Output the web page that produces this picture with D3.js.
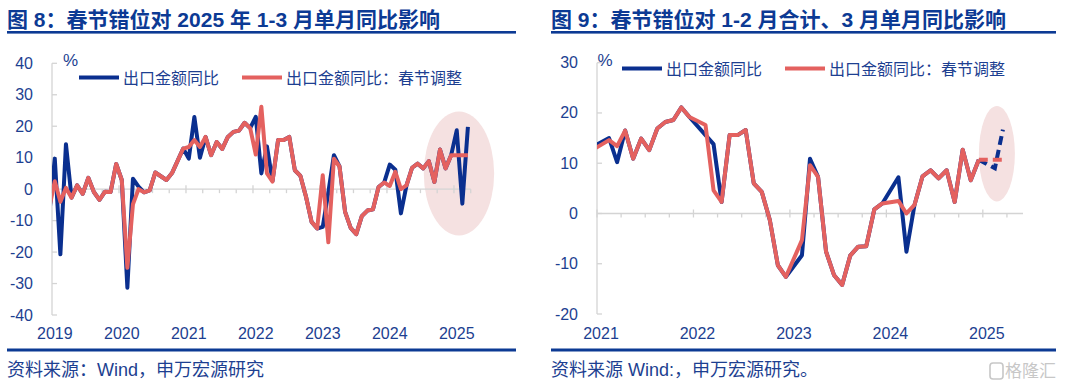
<!DOCTYPE html>
<html>
<head>
<meta charset="utf-8">
<script src="https://cdn.jsdelivr.net/npm/d3@7"></script>
<style>
  body { margin: 0; background: #fff; }
  svg { display: block; }
  text { font-family: "Liberation Sans", "Noto Sans CJK SC", sans-serif; }
</style>
</head>
<body>
<svg id="chart" width="1080" height="384"></svg>
<script>
// ---- data (% y/y) ----
// left: monthly from 2018-12 (first point sits left of the axis and is clipped)
const LEFT_FIRST_MONTH = '2018-12'
const LEFT_EXPORT = [
  -8.0,
  9.7, -20.7, 14.3, -2.7, 1.2, -1.5, 3.6, -0.9, -3.4, -0.8, -0.9, 8.0,      // 2019
  2.9, -31.3, 3.3, 0.8, -1.0, -0.4, 5.3, 4.1, 2.9, 5.1, 9.0, 12.9,          // 2020
  9.7, 22.9, 10.0, 16.6, 10.8, 15.0, 12.8, 16.6, 18.2, 18.6, 21.1, 19.4,    // 2021
  23.0, 5.0, 13.6, 2.6, 15.6, 15.6, 16.6, 6.0, 4.2, -2.4, -10.4, -12.5,     // 2022
  -12.0, -1.0, 10.8, 7.2, -7.2, -12.3, -14.3, -8.6, -6.8, -6.4, 0.7, 2.1,   // 2023
  7.8, 6.2, -7.7, 1.2, 6.8, 8.1, 6.6, 8.9, 2.3, 12.6, 6.6, 10.8,            // 2024
  18.7, -4.6, 19.8                                                          // 2025
]
const LEFT_ADJUSTED = [
  -6.0,
  2.5, -4.0, 0.4, -2.7, 1.2, -1.5, 3.6, -0.9, -3.4, -0.8, -0.9, 8.0,
  2.9, -25.0, -4.8, 0.0, -1.0, -0.4, 5.3, 4.1, 2.9, 5.1, 9.0, 12.9,
  13.4, 15.6, 13.4, 16.6, 10.8, 15.0, 12.8, 16.6, 18.2, 18.6, 21.1, 19.4,
  11.0, 26.2, 5.0, 2.4, 15.6, 15.6, 16.6, 6.0, 4.2, -2.4, -10.4, -12.5,
  4.4, -16.9, 9.7, 7.2, -7.2, -12.3, -14.3, -8.6, -6.8, -6.4, 0.7, 2.1,
  1.0, 5.5, 0.0, 1.2, 6.8, 8.1, 6.6, 8.9, 2.3, 12.6, 6.6, 10.8,
  10.8, 10.8, 10.8
]
const LEFT_YEARS = ['2019', '2020', '2021', '2022', '2023', '2024', '2025']
const LEFT_Y_TICKS = [40, 30, 20, 10, 0, -10, -20, -30, -40]

// right: Jan-Feb combined (plotted at Feb), Jan left empty
const RIGHT_FIRST_MONTH = '2020-12'
const RIGHT_EXPORT = [
  13.3,
  null, 15.0, 10.2, 16.5, 10.9, 14.9, 12.6, 16.9, 18.2, 18.6, 21.1, 19.2,   // 2021
  null, 15.6, 13.8, 2.3, 15.6, 15.6, 16.6, 6.0, 4.3, -1.3, -10.3, -12.6,    // 2022
  null, -8.3, 10.9, 7.3, -7.6, -12.3, -14.2, -8.4, -6.6, -6.5, 0.8, 2.0,    // 2023
  null, 7.2, -7.6, 1.7, 7.4, 8.6, 7.0, 8.6, 2.3, 12.7, 6.6, 10.7,           // 2024
  null, 9.0, 16.7                                                           // 2025
]
const RIGHT_ADJUSTED = [
  12.7,
  null, 14.6, 13.4, 16.5, 10.9, 14.9, 12.6, 16.9, 18.2, 18.6, 21.1, 19.2,
  null, 17.6, 4.6, 2.3, 15.6, 15.6, 16.6, 6.0, 4.3, -1.3, -10.3, -12.6,
  null, -5.3, 9.6, 7.3, -7.6, -12.3, -14.2, -8.4, -6.6, -6.5, 0.8, 2.0,
  null, 2.5, 0.0, 1.7, 7.4, 8.6, 7.0, 8.6, 2.3, 12.7, 6.6, 10.7,
  null, 10.7, 10.7
]
const RIGHT_DASH_FROM = '2024-12'
const RIGHT_YEARS = ['2021', '2022', '2023', '2024', '2025']
const RIGHT_Y_TICKS = [30, 20, 10, 0, -10, -20]

const SERIES_NAMES = ['出口金额同比', '出口金额同比：春节调整']

const BLUE = '#0a2f8f'
const RED = '#e4615f'
const TEXT = '#1d3f91'
const NAVY = '#0c3a94'
const GRID = '#d4d4d4'

const svg = d3.select('#chart')

function monthsBetween(a, b){
  const [ya, ma] = a.split('-').map(Number)
  const [yb, mb] = b.split('-').map(Number)
  return (yb - ya) * 12 + (mb - ma)
}

function drawPanel(p){
  const g = svg.append('g')
  const x = d3.scaleLinear().domain([0, p.monthSpan]).range([p.left, p.right])
  const y = d3.scaleLinear().domain([d3.min(p.yTicks), d3.max(p.yTicks)]).range([p.bottom, p.top])
  const firstYear = p.years[0]
  const offset = monthsBetween(firstYear + '-01', p.firstMonth)

  // title + rules
  g.append('text')
    .attr('x', p.frameX).attr('y', 19)
    .attr('dominant-baseline', 'central')
    .attr('font-size', 21).attr('font-weight', 'bold')
    .attr('fill', NAVY)
    .text(p.title)
  g.append('rect').attr('x', p.frameX).attr('y', 31).attr('width', p.frameW).attr('height', 2.6).attr('fill', NAVY)
  g.append('rect').attr('x', p.frameX).attr('y', 348.5).attr('width', p.frameW).attr('height', 3).attr('fill', NAVY)
  g.append('text')
    .attr('x', p.frameX).attr('y', 370)
    .attr('dominant-baseline', 'central')
    .attr('font-size', 18).attr('fill', TEXT)
    .text(p.source)

  // highlight ellipse
  const h = p.highlight
  g.append('ellipse')
    .attr('cx', x(h.month)).attr('cy', y(h.value))
    .attr('rx', x(h.month + h.rMonths) - x(h.month))
    .attr('ry', y(h.value - h.rValue) - y(h.value))
    .attr('fill', '#f5e1e1')

  // y axis
  g.append('line')
    .attr('x1', p.left).attr('x2', p.left)
    .attr('y1', y(d3.max(p.yTicks))).attr('y2', y(d3.min(p.yTicks)))
    .attr('stroke', GRID).attr('stroke-width', 1.3)
  g.selectAll('.ytick').data(p.yTicks).enter().append('line')
    .attr('x1', p.left).attr('x2', p.left + 5)
    .attr('y1', d => y(d)).attr('y2', d => y(d))
    .attr('stroke', GRID).attr('stroke-width', 1.3)
  g.selectAll('.ylab').data(p.yTicks).enter().append('text')
    .attr('x', p.left - 19).attr('y', d => y(d))
    .attr('text-anchor', 'end').attr('dominant-baseline', 'central')
    .attr('font-size', 16).attr('fill', TEXT)
    .text(d => d)
  g.append('text')
    .attr('x', p.left + p.pctDx).attr('y', 60)
    .attr('text-anchor', 'middle').attr('dominant-baseline', 'central')
    .attr('font-size', 17).attr('fill', TEXT)
    .text('%')

  // x axis on zero
  const y0 = y(0)
  g.append('line')
    .attr('x1', p.left).attr('x2', p.right)
    .attr('y1', y0).attr('y2', y0)
    .attr('stroke', GRID).attr('stroke-width', 1.3)
  const qTicks = d3.range(0, p.monthSpan + 0.01, 3)
  g.selectAll('.xtick').data(qTicks).enter().append('line')
    .attr('x1', d => x(d)).attr('x2', d => x(d))
    .attr('y1', d => d % 12 == 0 ? y0 - 4 : y0).attr('y2', y0 + 4)
    .attr('stroke', GRID).attr('stroke-width', 1.3)
  g.selectAll('.xlab').data(p.years).enter().append('text')
    .attr('x', (d, i) => x(i * 12 + 0.5)).attr('y', 333.5)
    .attr('text-anchor', 'middle').attr('dominant-baseline', 'central')
    .attr('font-size', 16).attr('fill', TEXT)
    .text(d => d)

  // lines
  const clipId = 'clip-' + p.id
  svg.append('clipPath').attr('id', clipId)
    .append('rect').attr('x', p.left).attr('y', 0).attr('width', p.right - p.left).attr('height', 384)
  const line = d3.line().x(d => x(d.m + 0.5)).y(d => y(d.v))
  const dashAt = p.dashFrom ? monthsBetween(firstYear + '-01', p.dashFrom) : Infinity

  function toPoints(values){
    return values.map((v, i) => ({ m: i + offset, v: v })).filter(d => d.v !== null)
  }
  const lg = g.append('g').attr('clip-path', 'url(#' + clipId + ')')
  ;[[p.series[0], BLUE], [p.series[1], RED]].forEach(([values, color]) => {
    const pts = toPoints(values)
    const solid = pts.filter(d => d.m <= dashAt)
    const dashed = pts.filter(d => d.m >= dashAt)
    lg.append('path').datum(solid)
      .attr('d', line).attr('fill', 'none')
      .attr('stroke', color).attr('stroke-width', p.lineWidth)
      .attr('stroke-linejoin', 'round')
    if(dashed.length > 1){
      lg.append('path').datum(dashed)
        .attr('d', line).attr('fill', 'none')
        .attr('stroke', color).attr('stroke-width', p.lineWidth)
        .attr('stroke-dasharray', '9,5')
    }
  })

  // legend
  const colors = [BLUE, RED]
  p.legend.forEach((lx, i) => {
    g.append('line')
      .attr('x1', lx).attr('x2', lx + 40)
      .attr('y1', p.legendY).attr('y2', p.legendY)
      .attr('stroke', colors[i]).attr('stroke-width', 4)
    g.append('text')
      .attr('x', lx + 44).attr('y', p.legendY + 0.5)
      .attr('dominant-baseline', 'central')
      .attr('font-size', 16).attr('fill', TEXT)
      .text(SERIES_NAMES[i])
  })
}

drawPanel({
  id: 'left',
  title: '图 8：春节错位对 2025 年 1-3 月单月同比影响',
  source: '资料来源：Wind，申万宏源研究',
  frameX: 7, frameW: 509,
  left: 52, right: 470.7, top: 63.3, bottom: 315,
  monthSpan: 75,
  years: LEFT_YEARS, yTicks: LEFT_Y_TICKS,
  firstMonth: LEFT_FIRST_MONTH,
  series: [LEFT_EXPORT, LEFT_ADJUSTED],
  lineWidth: 4,
  pctDx: 18.5,
  legend: [79, 242], legendY: 77.5,
  highlight: { month: 72.9, value: 5.0, rMonths: 6.3, rValue: 19.7 }
})

drawPanel({
  id: 'right',
  title: '图 9：春节错位对 1-2 月合计、3 月单月同比影响',
  source: '资料来源 Wind:，申万宏源研究。',
  frameX: 551, frameW: 505,
  left: 597, right: 1023, top: 62.7, bottom: 314,
  monthSpan: 53,
  years: RIGHT_YEARS, yTicks: RIGHT_Y_TICKS,
  firstMonth: RIGHT_FIRST_MONTH,
  series: [RIGHT_EXPORT, RIGHT_ADJUSTED],
  dashFrom: RIGHT_DASH_FROM,
  lineWidth: 4,
  pctDx: 8,
  legend: [622, 785], legendY: 68.5,
  highlight: { month: 49.75, value: 11.9, rMonths: 2.24, rValue: 9.5 }
})

// watermark
const wm = svg.append('g').attr('opacity', 0.55)
wm.append('rect').attr('x', 990).attr('y', 363).attr('width', 13).attr('height', 16).attr('rx', 3)
  .attr('fill', 'none').attr('stroke', '#9a9a9a').attr('stroke-width', 1.6)
wm.append('text').attr('x', 1005).attr('y', 371.5).attr('dominant-baseline', 'central')
  .attr('font-size', 17).attr('fill', '#9a9a9a').text('格隆汇')
</script>
</body>
</html>
